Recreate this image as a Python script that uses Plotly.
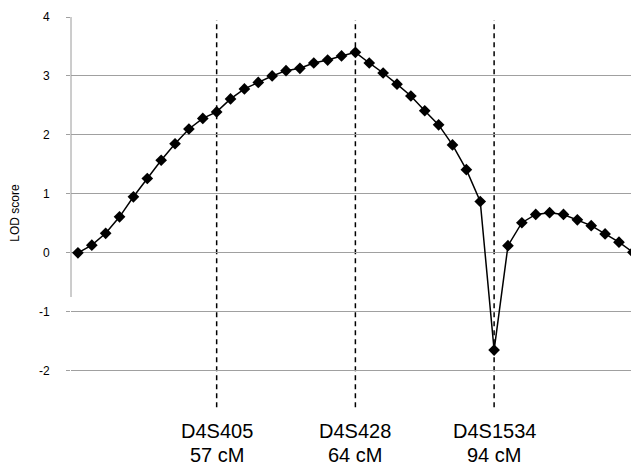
import plotly.graph_objects as go

# LOD scores along the map (41 evenly spaced positions)
positions = list(range(41))
lod = [0.00, 0.13, 0.33, 0.61, 0.95, 1.26, 1.57, 1.85, 2.10, 2.28,
       2.39, 2.61, 2.78, 2.89, 3.00, 3.09, 3.13, 3.22, 3.27, 3.34,
       3.40, 3.22, 3.05, 2.86, 2.66, 2.41, 2.17, 1.83, 1.41, 0.87,
       -1.65, 0.12, 0.51, 0.65, 0.68, 0.65, 0.56, 0.46, 0.32, 0.18, 0.01]

marker_pos = [10, 20, 30]
marker_names = ["D4S405", "D4S428", "D4S1534"]
marker_cm = ["57 cM", "64 cM", "94 cM"]

y_ticks = [-2, -1, 0, 1, 2, 3, 4]

FONT = "Liberation Sans, Arial"

fig = go.Figure()
fig.add_trace(go.Scatter(
    x=positions, y=lod, mode="lines+markers",
    line=dict(color="black", width=1.5),
    marker=dict(symbol="diamond", size=9, color="black"),
    cliponaxis=False,
    showlegend=False,
))

for p in marker_pos:
    fig.add_shape(type="line", xref="x", yref="y", x0=p, x1=p, y0=-2.62, y1=3.95,
                  line=dict(color="black", width=1.5, dash="5px,4px"), layer="below")

# faded y axis line
fig.add_shape(type="line", xref="paper", yref="y", x0=0, x1=0, y0=-0.75, y1=4,
              line=dict(color="#9a9a9a", width=1), layer="below")

for p, n, c in zip(marker_pos, marker_names, marker_cm):
    fig.add_annotation(x=p, xref="x", y=0, yref="paper", yshift=-22, text=n,
                       showarrow=False, yanchor="middle",
                       font=dict(family=FONT, size=20, color="black"))
    fig.add_annotation(x=p, xref="x", y=0, yref="paper", yshift=-46, text=c,
                       showarrow=False, yanchor="middle",
                       font=dict(family=FONT, size=20, color="black"))

fig.update_layout(
    width=631, height=459,
    margin=dict(l=63, r=2, t=9, b=58),
    paper_bgcolor="white", plot_bgcolor="white",
    font=dict(family=FONT, size=12, color="black"),
    xaxis=dict(range=[-0.5, 40.3], visible=False),
    yaxis=dict(range=[-2.65, 4], tickvals=y_ticks, ticktext=[str(t) for t in y_ticks],
               showgrid=True, gridcolor="#a0a0a0", gridwidth=1, zeroline=False,
               ticks="outside", ticklen=4, tickcolor="#a0a0a0",
               ticklabelstandoff=14,
               showline=False,
               title=dict(text="LOD score", font=dict(size=12), standoff=20)),
)

fig.write_html("out.html")
